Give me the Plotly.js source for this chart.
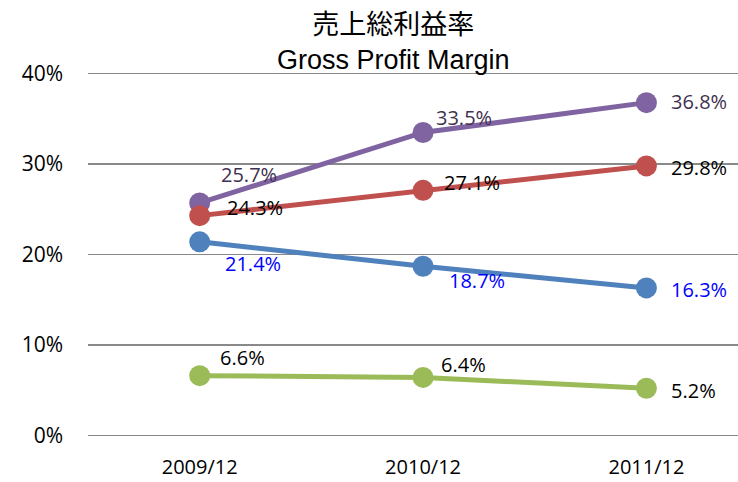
<!DOCTYPE html>
<html><head><meta charset="utf-8">
<script src="https://cdn.plot.ly/plotly-3.0.1.min.js"></script>
<style>html,body{margin:0;padding:0;background:#fff}</style>
</head><body>
<div id="chart" style="width:738px;height:482px"></div>
<script>
var categories = ['2009/12', '2010/12', '2011/12'];
var purpleValues = [25.7, 33.5, 36.8];
var redValues = [24.3, 27.1, 29.8];
var blueValues = [21.4, 18.7, 16.3];
var greenValues = [6.6, 6.4, 5.2];
var yTickValues = [0, 10, 20, 30, 40];
var yTickLabels = ['0%', '10%', '20%', '30%', '40%'];

var series = [
  {vals: purpleValues, color: '#8064A2', labelColor: '#3F3151', shifts: [[19, 28], [11, 15], [23, 1]]},
  {vals: redValues, color: '#C0504D', labelColor: '#000000', shifts: [[25, 8], [19, 8], [23, -2]]},
  {vals: blueValues, color: '#4F81BD', labelColor: '#0000FF', shifts: [[23, -22], [24, -14], [23, -2]]},
  {vals: greenValues, color: '#9BBB59', labelColor: '#000000', shifts: [[18, 18], [16, 13], [23, -2]]}
];

var traces = [];
var annotations = [];
series.forEach(function (s) {
  traces.push({
    x: categories, y: s.vals, type: 'scatter', mode: 'lines+markers',
    line: {color: s.color, width: 5},
    marker: {color: s.color, size: 21},
    cliponaxis: false, hoverinfo: 'none'
  });
  s.vals.forEach(function (v, i) {
    annotations.push({
      x: categories[i], y: v, xref: 'x', yref: 'y',
      text: v.toFixed(1) + '%', showarrow: false,
      xanchor: 'left', yanchor: 'middle',
      xshift: s.shifts[i][0], yshift: s.shifts[i][1],
      font: {family: 'Open Sans, sans-serif', size: 20, color: s.labelColor}
    });
  });
});

var layout = {
  width: 738, height: 482,
  margin: {l: 88, r: 0, t: 71, b: 44},
  paper_bgcolor: '#ffffff', plot_bgcolor: '#ffffff',
  showlegend: false,
  title: {
    text: '売上総利益率<br>Gross Profit Margin',
    font: {family: 'Liberation Sans, Noto Sans CJK JP, sans-serif', size: 27, color: '#000'},
    x: 0.533, xanchor: 'center', y: 0.93, yanchor: 'top'
  },
  xaxis: {
    type: 'category', range: [-0.5, 2.41],
    showgrid: false, zeroline: false, showline: false, ticks: '',
    tickfont: {family: 'Open Sans, sans-serif', size: 20, color: '#000'},
    ticklabelstandoff: 15
  },
  yaxis: {
    range: [-0.3, 40.3], tickvals: yTickValues, ticktext: yTickLabels,
    showgrid: true, gridcolor: '#898989', gridwidth: 1.5,
    zeroline: false, showline: false, ticks: '',
    tickfont: {family: 'Open Sans, sans-serif', size: 21, color: '#000'},
    ticklabelstandoff: 24
  },
  annotations: annotations
};

Plotly.newPlot('chart', traces, layout, {displayModeBar: false, staticPlot: true});
</script>
</body></html>
